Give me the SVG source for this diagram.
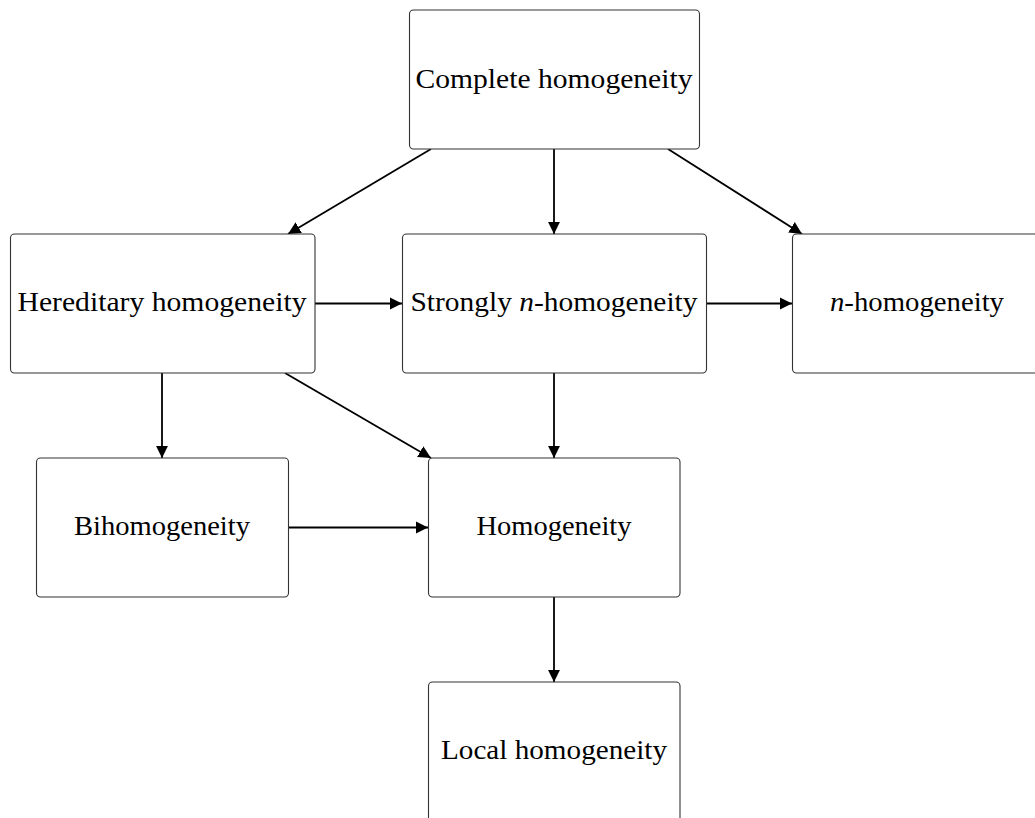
<svg xmlns="http://www.w3.org/2000/svg" width="1035" height="818" viewBox="0 0 1035 818">
<style>
.box{fill:#fff;stroke:#333;stroke-width:1.1}
.lbl{font-family:"Liberation Serif","DejaVu Serif",serif;font-size:27px;fill:#000;text-anchor:middle}
.c{stroke:#000;stroke-width:1.8;fill:none;marker-end:url(#ah)}
</style>
<defs>
<marker id="ah" markerUnits="userSpaceOnUse" markerWidth="14" markerHeight="14" viewBox="0 0 14 14" refX="12.5" refY="7" orient="auto">
<path d="M0,0.8 L12.5,7 L0,13.2 z" fill="#000"/>
</marker>
</defs>
<rect width="1035" height="818" fill="#fff"/>
<g id="connectors">
<line class="c" x1="431" y1="149" x2="288" y2="234"/>
<line class="c" x1="554" y1="149" x2="554" y2="234"/>
<line class="c" x1="668" y1="149" x2="802" y2="234"/>
<line class="c" x1="315" y1="303.5" x2="402" y2="303.5"/>
<line class="c" x1="706" y1="303.5" x2="792" y2="303.5"/>
<line class="c" x1="162" y1="373" x2="162" y2="458"/>
<line class="c" x1="285" y1="373" x2="431" y2="458"/>
<line class="c" x1="554" y1="373" x2="554" y2="458"/>
<line class="c" x1="288" y1="527.5" x2="428" y2="527.5"/>
<line class="c" x1="554" y1="597" x2="554" y2="682"/>
</g>
<g id="complete">
<rect class="box" x="409.5" y="10" width="290" height="139" rx="4"/>
<text class="lbl" x="554" y="88" textLength="277" lengthAdjust="spacingAndGlyphs">Complete homogeneity</text>
</g>
<g id="hereditary">
<rect class="box" x="10.5" y="234" width="304.5" height="139" rx="4"/>
<text class="lbl" x="162" y="311" textLength="289" lengthAdjust="spacingAndGlyphs">Hereditary homogeneity</text>
</g>
<g id="strongly">
<rect class="box" x="402.5" y="234" width="304" height="139" rx="4"/>
<text class="lbl" x="554" y="311" textLength="287" lengthAdjust="spacingAndGlyphs">Strongly <tspan font-style="italic">n</tspan>-homogeneity</text>
</g>
<g id="nhom">
<rect class="box" x="792.5" y="234" width="260" height="139" rx="4"/>
<text class="lbl" x="917" y="311" textLength="174" lengthAdjust="spacingAndGlyphs"><tspan font-style="italic">n</tspan>-homogeneity</text>
</g>
<g id="bihom">
<rect class="box" x="36.5" y="458" width="252" height="139" rx="4"/>
<text class="lbl" x="162" y="535" textLength="176" lengthAdjust="spacingAndGlyphs">Bihomogeneity</text>
</g>
<g id="homog">
<rect class="box" x="428.5" y="458" width="251.5" height="139" rx="4"/>
<text class="lbl" x="554" y="535" textLength="155" lengthAdjust="spacingAndGlyphs">Homogeneity</text>
</g>
<g id="local">
<rect class="box" x="428.5" y="682" width="251.5" height="160" rx="4"/>
<text class="lbl" x="554" y="759" textLength="226" lengthAdjust="spacingAndGlyphs">Local homogeneity</text>
</g>
</svg>
